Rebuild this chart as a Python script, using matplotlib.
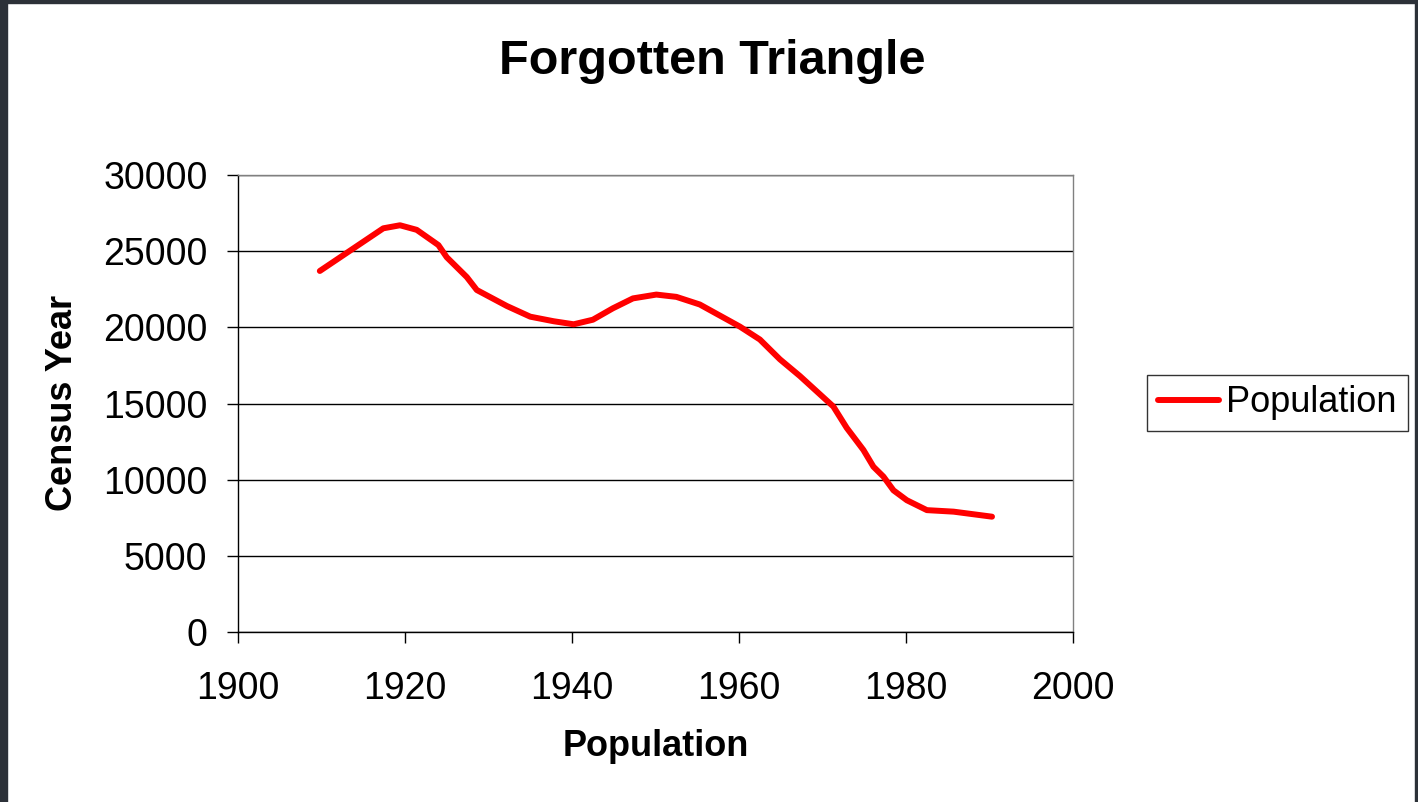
import matplotlib
matplotlib.use("Agg")
import matplotlib.pyplot as plt
from matplotlib.patches import Rectangle

plt.rcParams['font.family'] = ['Liberation Sans', 'DejaVu Sans']

# Data read from the (smoothed) curve
years = [1909.8, 1917.4, 1919.4, 1921.4, 1924.0, 1925.0, 1927.4, 1928.6, 1932.2,
         1935.0, 1937.8, 1940.2, 1942.5, 1944.9, 1947.3, 1950.1, 1952.5, 1955.3,
         1960.1, 1962.5, 1964.9, 1967.3, 1969.3, 1971.3, 1972.9, 1974.9, 1976.1,
         1977.3, 1978.5, 1980.1, 1982.5, 1985.7, 1990.3]
population = [23700, 26500, 26700, 26400, 25400, 24600, 23300, 22450, 21400,
              20700, 20400, 20200, 20500, 21250, 21900, 22150, 22000, 21500,
              20050, 19200, 17900, 16800, 15800, 14800, 13400, 11950, 10850,
              10200, 9300, 8650, 8000, 7900, 7570]
x_ticks = [1900, 1920, 1940, 1960, 1980, 2000]
y_ticks = [0, 5000, 10000, 15000, 20000, 25000, 30000]

W, H = 1418, 802
fig = plt.figure(figsize=(W / 100, H / 100), dpi=100)
fig.patch.set_facecolor('white')

ax = fig.add_axes([238 / W, 1 - 632 / H, (1073 - 238) / W, (632 - 175) / H])
ax.plot(years, population, color='#ff0000', lw=4.3, solid_capstyle='round',
        solid_joinstyle='round', label='Population')
ax.set_xlim(1900, 2000)
ax.set_ylim(0, 30000)
ax.set_xticks(x_ticks)
ax.set_yticks(y_ticks)
ax.yaxis.grid(True, color='black', lw=1)
ax.set_axisbelow(True)
ax.tick_params(axis='both', direction='out', length=8, width=1, labelsize=27,
               colors='black')
ax.tick_params(axis='y', pad=14)
ax.tick_params(axis='x', pad=20)
for s in ['top', 'right']:
    ax.spines[s].set_color('#808080')
    ax.spines[s].set_linewidth(1)
for s in ['left', 'bottom']:
    ax.spines[s].set_color('black')
    ax.spines[s].set_linewidth(1)

fig.text(712 / W, 1 - 62 / H, 'Forgotten Triangle', fontsize=35, fontweight='bold',
         ha='center', va='center')
fig.text(656 / W, 1 - 747 / H, 'Population', fontsize=26, fontweight='bold',
         ha='center', va='center')
fig.text(63 / W, 1 - 403 / H, 'Census Year', fontsize=26, fontweight='bold',
         ha='center', va='center', rotation=90)

leg = fig.legend(loc='center left', bbox_to_anchor=(1147 / W, 1 - 403 / H),
                 fontsize=26, frameon=True, fancybox=False, handlelength=1.7,
                 handletextpad=0.2, borderpad=0.3, borderaxespad=0)
leg.get_frame().set_edgecolor('black')
leg.get_frame().set_linewidth(1)

# Screenshot frame edges
fc = '#2c3138'
fig.patches.append(Rectangle((0, 0), 7 / W, 1, transform=fig.transFigure, color=fc, zorder=10))
fig.patches.append(Rectangle((0, 1 - 3 / H), 1, 3 / H, transform=fig.transFigure, color=fc, zorder=10))
fig.patches.append(Rectangle((1 - 3 / W, 0), 3 / W, 1, transform=fig.transFigure, color=fc, zorder=10))

fig.savefig('out.png', dpi=100, facecolor='white')
